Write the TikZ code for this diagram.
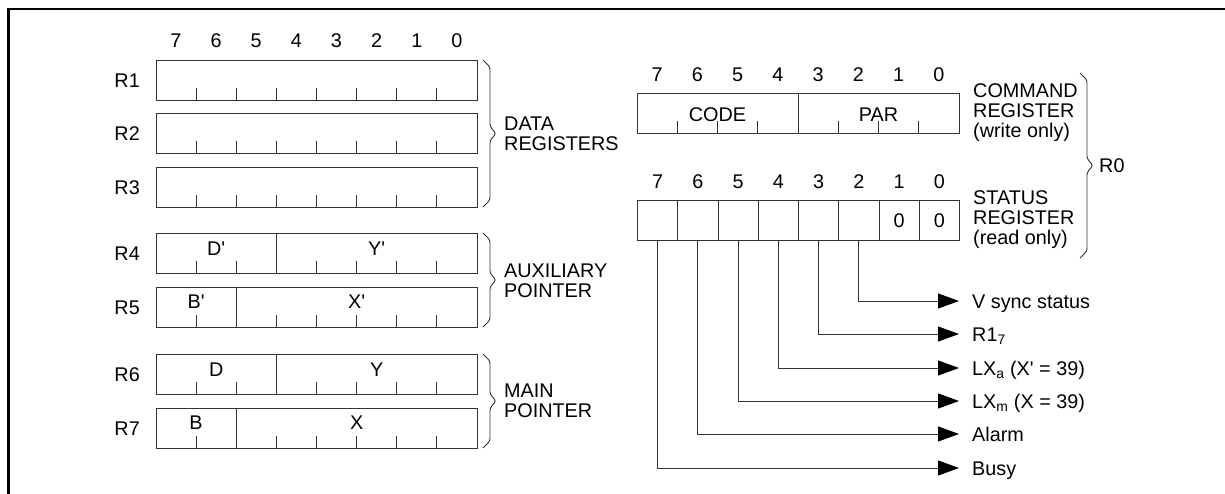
\documentclass[tikz,border=0pt]{standalone}
\usepackage{fontspec}
\setmainfont{Liberation Sans}
\usetikzlibrary{positioning,arrows.meta,calc}
\newcommand{\regbrace}[3]{% x,top,bottom
  \pgfmathsetmacro{\bmid}{(#2+#3)/2}
  \draw[line width=0.9pt, black!80, rounded corners=2.5pt]
    (#1,#2) -- ({#1+7},{#2+7}) -- ({#1+7},\bmid-7) -- ({#1+13},\bmid)
    -- ({#1+7},\bmid+7) -- ({#1+7},{#3-7}) -- (#1,#3);
}

\begin{document}
\begin{tikzpicture}[x=1pt,y=-1pt,
  font=\fontsize{19.8}{20}\selectfont,
  regbox/.style={draw=black!80, line width=0.9pt, anchor=north west, inner sep=0pt,
    minimum width=321pt, minimum height=40pt},
  cell/.style={draw=black!80, line width=0.9pt, anchor=north west, inner sep=0pt,
    minimum width=40.25pt, minimum height=40pt},
  tickmark/.style={black!80, line width=0.9pt},
  regname/.style={inner sep=0pt},
  grouptext/.style={anchor=west, align=left, inner sep=0pt},
  signal/.style={inner sep=0pt, text height=16.5pt, text depth=2.5pt},
  conn/.style={black!80, line width=0.9pt, -{Triangle[length=21pt,width=15pt,color=black]}},
]
\useasboundingbox (0,0) rectangle (1225,494);

% frame (top and left only)
\draw[line width=2.6pt] (8.7,494) |- (1225,9);

% bit numbers over the left registers
\foreach \i in {0,...,7}
  \node (b\i) at ({176+40.125*(7-\i)},41) {\i};

% data registers
\foreach \r/\y in {1/60, 2/113, 3/167} {
  \node[regbox] (r\r) at (156,\y) {};
  \node[regname, left=16pt of r\r] (n\r) {R\r};
  \foreach \i in {1,...,7}
    \draw[tickmark] ($(r\r.south west)+(40.125*\i,0)$) -- ++(0,-13);
}

% pointer registers: D/Y kind and B/X kind
\foreach \r/\y in {4/233, 6/354} {
  \node[regbox] (r\r) at (156,\y) {};
  \node[regname, left=16pt of r\r] (n\r) {R\r};
  \draw[tickmark] ($(r\r.north west)+(120.4,0)$) -- ($(r\r.south west)+(120.4,0)$);
  \foreach \i in {1,2,4,5,6,7}
    \draw[tickmark] ($(r\r.south west)+(40.125*\i,0)$) -- ++(0,-13);
}
\foreach \r/\y in {5/287, 7/408} {
  \node[regbox] (r\r) at (156,\y) {};
  \node[regname, left=16pt of r\r] (n\r) {R\r};
  \draw[tickmark] ($(r\r.north west)+(80.25,0)$) -- ($(r\r.south west)+(80.25,0)$);
  \foreach \i in {1,3,4,5,6,7}
    \draw[tickmark] ($(r\r.south west)+(40.125*\i,0)$) -- ++(0,-13);
}
\node (f4a) at ($(r4.north west)+(60.2,15.5)$) {D\textquotesingle};
\node (f4b) at ($(r4.north west)+(220.7,15.5)$) {Y\textquotesingle};
\node (f5a) at ($(r5.north west)+(40.1,15)$) {B\textquotesingle};
\node (f5b) at ($(r5.north west)+(200.6,15)$) {X\textquotesingle};
\node (f6a) at ($(r6.north west)+(60.2,15.5)$) {D};
\node (f6b) at ($(r6.north west)+(220.7,15.5)$) {Y};
\node (f7a) at ($(r7.north west)+(40.1,15)$) {B};
\node (f7b) at ($(r7.north west)+(200.6,15)$) {X};

% braces and group names
\regbrace{483}{60}{207}
\regbrace{483}{233}{327}
\regbrace{483}{354}{448}
\node[grouptext] (gdata) at (504,134) {DATA\\REGISTERS};
\node[grouptext] (gaux) at (504,281) {AUXILIARY\\POINTER};
\node[grouptext] (gmain) at (504,401) {MAIN\\POINTER};

% command register
\node[regbox, minimum width=322pt] (cmd) at (637,93) {};
\foreach \i in {0,...,7}
  \node (c\i) at ({657.1+40.25*(7-\i)},75) {\i};
\draw[tickmark] ($(cmd.north west)+(161,0)$) -- ($(cmd.south west)+(161,0)$);
\foreach \i in {1,2,3,5,6,7}
  \draw[tickmark] ($(cmd.south west)+(40.25*\i,0)$) -- ++(0,-13);
\node (code) at ($(cmd.north west)+(80.5,21.5)$) {CODE};
\node (par) at ($(cmd.north west)+(241.5,21.5)$) {PAR};
\node[grouptext] (gcmd) at (973,113) {COMMAND\\REGISTER\\(write only)};

% status register
\foreach \i/\t in {7/,6/,5/,4/,3/,2/,1/0,0/0} {
  \node[cell] (s\i) at ({637+40.25*(7-\i)},200) {\t};
  \node (d\i) at ($(s\i.north)+(0,-18)$) {\i};
}
\node[grouptext] (gstat) at (973,220) {STATUS\\REGISTER\\(read only)};

% R0 brace
\regbrace{1080}{73}{258}
\node[grouptext] (r0) at (1099,166) {R0};

% status bits out
\foreach \i/\y/\t in {2/301/{V sync status}, 3/334/{R1\textsubscript{7}},
    4/368/{LX\textsubscript{a} (X\textquotesingle{} = 39)},
    5/401/{LX\textsubscript{m} (X = 39)}, 6/434/{Alarm}, 7/468/{Busy}} {
  \coordinate (a\i) at (959,\y);
  \node[signal, right=13pt of a\i] (l\i) {\t};
  \draw[conn] (s\i.south) |- (a\i);
}

\end{tikzpicture}
\end{document}
